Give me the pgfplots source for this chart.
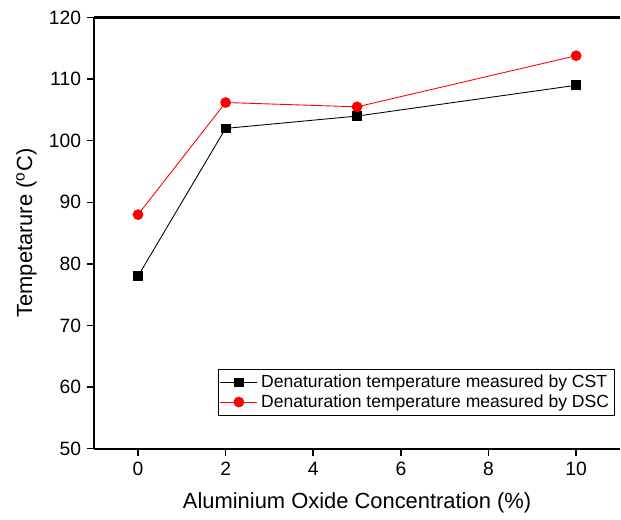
\documentclass[border=0pt]{standalone}
\usepackage{fontspec}
\setmainfont{Liberation Sans}
\usepackage{pgfplots}
\pgfplotsset{compat=1.18}

\begin{document}
\begin{tikzpicture}
\begin{axis}[
    name=ax,
    scale only axis,
    width=300pt, height=246pt,
    xmin=-1, xmax=11,
    ymin=50, ymax=120,
    xtick={0,2,4,6,8,10},
    ytick={50,60,70,80,90,100,110,120},
    axis x line*=bottom,
    axis y line*=left,
    axis line style={line width=1.2pt},
    tick style={line width=0.9pt, black},
    tick align=outside,
    major tick length=4pt,
    /pgf/number format/assume math mode=true,
    tick label style={font=\fontsize{11}{13}\selectfont},
    xlabel={Aluminium Oxide Concentration (\%)},
    ylabel={Tempetarure ($^{\mathrm{o}}$C)},
    label style={font=\fontsize{12.5}{15}\selectfont},
    xlabel style={yshift=-3pt},
    ylabel style={yshift=0pt},
    legend style={at={(rel axis cs:0.99,0.077)}, anchor=south east,
        font=\fontsize{10}{11.5}\selectfont, draw=black, line width=0.5pt,
        inner sep=1pt, row sep=-1.5pt},
    legend cell align=left,
    legend image code/.code={
        \draw[mark repeat=2,mark phase=2,#1]
            plot coordinates {(0cm,0cm) (0.37cm,0cm) (0.74cm,0cm)};},
    clip=false,
]
\addplot[black, line width=0.5pt, mark=square*, mark size=2.5pt, mark options={solid}]
    coordinates {(0,78) (2,102) (5,104) (10,109)};
\addplot[red, line width=0.5pt, mark=*, mark size=2.8pt, mark options={solid}]
    coordinates {(0,88) (2,106.2) (5,105.5) (10,113.8)};
\legend{Denaturation temperature measured by CST, Denaturation temperature measured by DSC}
\draw[line width=1.2pt] (rel axis cs:0,1) -- (rel axis cs:1,1);
\end{axis}
\path (ax.north west) ++(0,10pt);
\path (ax.outer west) ++(-6pt,0);
\end{tikzpicture}
\end{document}
